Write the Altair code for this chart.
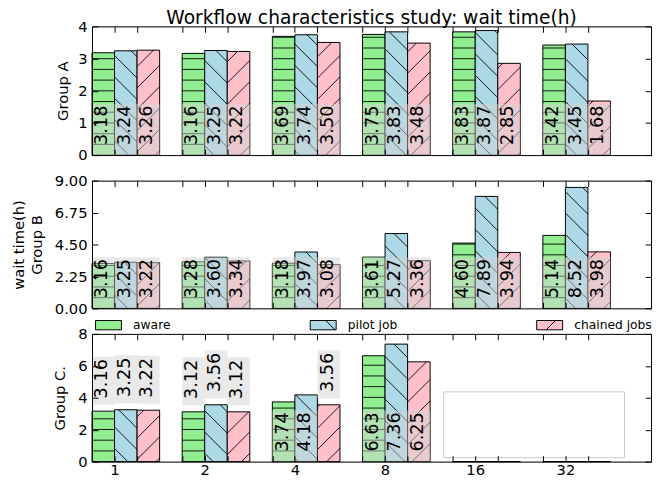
import json
import math
import altair as alt
import pandas as pd

# ---------------- data ----------------
x_labels = ["1", "2", "4", "8", "16", "32"]
series = ["aware", "pilot job", "chained jobs"]
colors = ["#90EE90", "#ADD8E6", "#FFC0CB"]

a_aware = [3.18, 3.16, 3.69, 3.75, 3.83, 3.42]
a_pilot = [3.24, 3.25, 3.74, 3.83, 3.87, 3.45]
a_chained = [3.26, 3.22, 3.50, 3.48, 2.85, 1.68]

b_aware = [3.16, 3.28, 3.18, 3.61, 4.60, 5.14]
b_pilot = [3.25, 3.60, 3.97, 5.27, 7.89, 8.52]
b_chained = [3.22, 3.34, 3.08, 3.36, 3.94, 3.98]

c_aware = [3.16, 3.12, 3.74, 6.63, 0, 0]
c_pilot = [3.25, 3.56, 4.18, 7.36, 0, 0]
c_chained = [3.22, 3.12, 3.56, 6.25, 0, 0]

yticks_a = [0, 1, 2, 3, 4]
yticks_b = [0, 2.25, 4.5, 6.75, 9]
yticks_c = [0, 2, 4, 6, 8]

title_text = "Workflow characteristics study: wait time(h)"

# ---------------- layout constants ----------------
FONT = "DejaVu Sans"
W = 569
XMAX = 6.2
BW = 0.25
HSP = 10.9      # horizontal hatch spacing (px)
DSP = 21.7      # diagonal hatch spacing (px)
C_BACK = 6.8
C_SLASH = 0.0

xtick_vals = sorted(i + k * BW for i in range(len(x_labels)) for k in range(3))
label_expr = "(datum.value*4)%4 == 1 ? " + json.dumps(x_labels) + "[floor(datum.value)] : ''"

shape_paths = [
    "M-1,-0.36H1V0.36H-1Z",
    "M-1,-0.36H1V0.36H-1Z M0.2,-0.36L0.91,0.36",
    "M-1,-0.36H1V0.36H-1Z M-0.27,0.36L0.45,-0.36",
]


def hatch(kind, X0, X1, Yt, Yb):
    segs = []
    if kind == 0:
        k = 1
        while True:
            Y = Yb - k * HSP
            if Y <= Yt + 0.3:
                break
            segs.append((X0, Y, X1, Y))
            k += 1
    elif kind == 1:  # "\" : Y = X + c
        cmin, cmax = Yt - X1, Yb - X0
        k = math.ceil((cmin - C_BACK) / DSP)
        while True:
            c = C_BACK + k * DSP
            if c > cmax:
                break
            xa, xb = max(X0, Yt - c), min(X1, Yb - c)
            if xb - xa > 0.5:
                segs.append((xa, xa + c, xb, xb + c))
            k += 1
    else:  # "/" : Y = -X + c
        cmin, cmax = Yt + X0, Yb + X1
        k = math.ceil((cmin - C_SLASH) / DSP)
        while True:
            c = C_SLASH + k * DSP
            if c > cmax:
                break
            xa, xb = max(X0, c - Yb), min(X1, c - Yt)
            if xb - xa > 0.5:
                segs.append((xa, c - xa, xb, c - xb))
            k += 1
    return segs


def panel(vals_list, ymax, H, yticks, yfmt, ytitle, title_x, bottom=False,
          legend=False, outside_thr=None, frame_box=False, top_title=False):
    sx = W / XMAX
    sy = H / ymax
    rows, hrows, lrows = [], [], []
    for s, (sname, vals) in enumerate(zip(series, vals_list)):
        for i, v in enumerate(vals):
            x0 = i + s * BW
            rows.append(dict(series=sname, x0=x0, x1=x0 + BW, zero=0.0, v=v))
            X0, X1 = x0 * sx, (x0 + BW) * sx
            Yt, Yb = H - v * sy, H
            if v > 0:
                for (xa, ya, xb, yb) in hatch(s, X0, X1, Yt, Yb):
                    hrows.append(dict(hx0=xa / sx, hx1=xb / sx,
                                      hy0=(H - ya) / sy, hy1=(H - yb) / sy))
                outside = outside_thr is not None and v < outside_thr
                if outside:
                    base, toff, blo, bhi = v, 13.0, 6.5, 55.5
                else:
                    base, toff, blo, bhi = 0.0, 10.3, 0.0, 52.0
                lrows.append(dict(x0=x0, x1=x0 + BW, xc=x0 + BW / 2,
                                  ty=base + toff / sy, by=base + blo / sy,
                                  by2=base + bhi / sy, label=f"{v:.2f}"))
    bars = pd.DataFrame(rows)
    hat = pd.DataFrame(hrows)
    lab = pd.DataFrame(lrows)

    xs = alt.Scale(domain=[0, XMAX], nice=False, zero=False)
    ys = alt.Scale(domain=[0, ymax], nice=False, zero=False)
    cs = alt.Scale(domain=series, range=colors)

    tick_common = dict(labels=False, ticks=True, tickSize=6, tickColor="black",
                       tickWidth=1, domain=True, domainColor="black",
                       domainWidth=1, grid=False, title=None, zindex=1)

    if bottom:
        main_x = alt.Axis(orient="bottom", values=xtick_vals, labelExpr=label_expr,
                          ticks=False, tickSize=0, domain=False, grid=False,
                          title=None, labelFontSize=15, labelPadding=1,
                          labelColor="black", labelFlush=False, labelOverlap=False)
    else:
        main_x = None
    main_y = alt.Axis(orient="left", values=yticks, format=yfmt, ticks=False,
                      tickSize=0, domain=False, grid=False, title=ytitle,
                      titleX=title_x, titleY=H / 2, titleAngle=270,
                      titleAlign="center", titleBaseline="alphabetic",
                      titleFontSize=15, titleFontWeight="normal",
                      titleColor="black", titleLineHeight=18,
                      labelFontSize=15, labelPadding=5, labelColor="black",
                      labelFlush=False, labelOverlap=False)

    leg = None
    if legend:
        leg = alt.Legend(orient="none", legendX=2.8, legendY=133,
                         direction="horizontal", title=None,
                         labelFontSize=12.5, labelFont=FONT, labelColor="black",
                         symbolSize=697, symbolStrokeColor="black",
                         symbolStrokeWidth=1, symbolOpacity=1,
                         columnPadding=138.5, labelOffset=11, padding=0)

    bar_layer = alt.Chart(bars).mark_rect(stroke="black", strokeWidth=1).encode(
        x=alt.X("x0:Q", scale=xs, axis=main_x),
        x2="x1:Q",
        y=alt.Y("zero:Q", scale=ys, axis=main_y),
        y2="v:Q",
        fill=alt.Fill("series:N", scale=cs, legend=leg),
    )
    hatch_layer = alt.Chart(hat).mark_rule(color="black", strokeWidth=0.9).encode(
        x=alt.X("hx0:Q", scale=xs,
                axis=alt.Axis(orient="top", offset=-H, values=xtick_vals, **tick_common)),
        x2="hx1:Q",
        y=alt.Y("hy0:Q", scale=ys,
                axis=alt.Axis(orient="right", offset=-W, values=yticks, **tick_common)),
        y2="hy1:Q",
    )
    box_layer = alt.Chart(lab).mark_rect(color="#d3d3d3", opacity=0.5).encode(
        x=alt.X("x0:Q", scale=xs,
                axis=alt.Axis(orient="bottom", offset=-H, values=xtick_vals, **tick_common)),
        x2="x1:Q",
        y=alt.Y("by:Q", scale=ys,
                axis=alt.Axis(orient="left", offset=-W, values=yticks, **tick_common)),
        y2="by2:Q",
    )
    text_layer = alt.Chart(lab).mark_text(
        angle=270, align="left", baseline="middle", fontSize=18, font=FONT,
        color="black", dy=-1,
    ).encode(
        x=alt.X("xc:Q", scale=xs, axis=None),
        y=alt.Y("ty:Q", scale=ys, axis=None),
        text=alt.Text("label:N"),
    )
    layers = [bar_layer, hatch_layer, box_layer, text_layer]
    if legend:
        pts = alt.Chart(pd.DataFrame({"series": series})).transform_filter("false").mark_point(
            filled=True, strokeWidth=1, opacity=1
        ).encode(
            fill=alt.Fill("series:N", scale=cs, legend=leg),
            shape=alt.Shape("series:N", scale=alt.Scale(domain=series, range=shape_paths),
                            legend=leg),
            stroke=alt.Stroke("series:N",
                              scale=alt.Scale(domain=series, range=["black"] * len(series)),
                              legend=leg),
        )
        layers.append(pts)
    if frame_box:
        fb = alt.Chart(pd.DataFrame({"k": [0]})).mark_rect(
            fill="white", stroke="#c8c8c8", strokeWidth=1
        ).encode(x=alt.value(358), x2=alt.value(542), y=alt.value(59), y2=alt.value(126))
        layers.append(fb)

    ch = alt.layer(*layers).resolve_axis(x="independent", y="independent").properties(
        width=W, height=H)
    if top_title:
        ch = ch.properties(title=alt.TitleParams(
            text=title_text, fontSize=19, font=FONT, fontWeight="normal",
            anchor="middle", frame="group", offset=-23.5, baseline="alphabetic",
            color="black"))
    return ch


pa = panel([a_aware, a_pilot, a_chained], 4, 131, yticks_a, "d", "Group A", -25.4,
           top_title=True)
pb = panel([b_aware, b_pilot, b_chained], 9, 130, yticks_b, ".2f",
           ["wait time(h)", "Group B"], -69.5, legend=True)
pc = panel([c_aware, c_pilot, c_chained], 8, 130, yticks_c, "d", "Group C.", -27.7,
           bottom=True, outside_thr=3.6, frame_box=True)

chart = alt.vconcat(pa, pb, pc, spacing=26, bounds="flush").resolve_scale(
    x="independent", y="independent", fill="independent", shape="independent",
    stroke="independent"
).properties(
    padding={"left": 3.5, "top": -3.5, "right": 0, "bottom": -3}
).configure_view(stroke=None).configure(font=FONT).configure_legend(
    symbolStrokeColor="black", symbolStrokeWidth=1)

chart.save("out.html", embed_options={"renderer": "svg", "actions": False})
